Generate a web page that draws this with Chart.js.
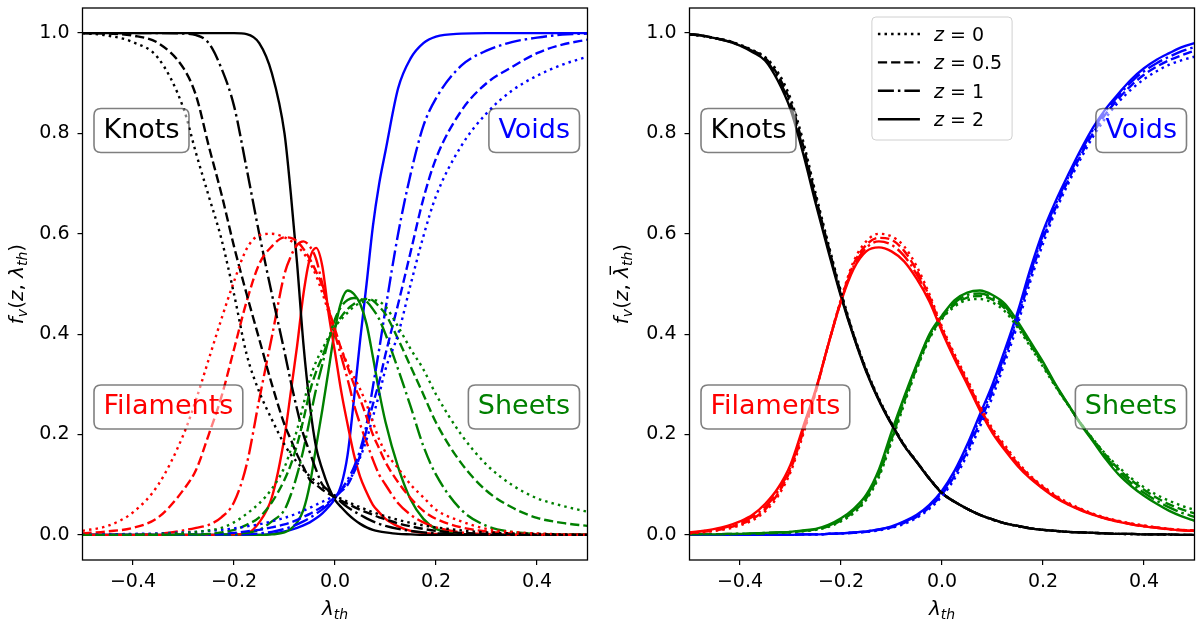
<!DOCTYPE html>
<html>
<head>
<meta charset="utf-8">
<script src="https://cdn.jsdelivr.net/npm/chart.js@4.4.1/dist/chart.umd.min.js"></script>
<style>
  html, body { margin: 0; padding: 0; background: #fff; }
  #wrap { position: relative; width: 1200px; height: 625px; overflow: hidden; }
  #wrap canvas { position: absolute; top: 0; }
  #left { left: 0; }
  #right { left: 600px; }
</style>
</head>
<body>
<div id="wrap">
  <canvas id="left" width="600" height="625"></canvas>
  <canvas id="right" width="600" height="625"></canvas>
</div>
<script>
/**
 * Volume fractions of knots / filaments / sheets / voids vs threshold,
 * two panels, four redshifts each.
 */

// ---- data -------------------------------------------------------------
const Z_LABELS = ['0', '0.5', '1', '2'];
const X_TICKS = [-0.4, -0.2, 0, 0.2, 0.4];
const Y_TICKS = [0, 0.2, 0.4, 0.6, 0.8, 1.0];

// left panel: lambda_th grid (denser where the curves are steep)
const X_LEFT = [-0.5, -0.45, -0.4, -0.35, -0.3, -0.275, -0.25, -0.225, -0.2, -0.175, -0.15, -0.125,
  -0.1, -0.0875, -0.075, -0.0625, -0.05, -0.0375, -0.025, -0.0125, 0, 0.0125, 0.025, 0.0375, 0.05,
  0.0625, 0.075, 0.0875, 0.1, 0.125, 0.15, 0.175, 0.2, 0.25, 0.3, 0.35, 0.4, 0.45, 0.5];

const KNOTS_L_Z0 = [1.0, 0.995, 0.982, 0.95, 0.85, 0.76, 0.675, 0.59, 0.48, 0.36, 0.285, 0.23, 0.18, 0.16, 0.145, 0.13, 0.117, 0.106, 0.096, 0.087, 0.078, 0.072, 0.066, 0.06, 0.055, 0.05, 0.045, 0.041, 0.037, 0.03, 0.024, 0.019, 0.015, 0.009, 0.005, 0.003, 0.002, 0.001, 0];
const KNOTS_L_Z05 = [1.0, 0.999, 0.995, 0.98, 0.93, 0.875, 0.775, 0.68, 0.575, 0.48, 0.39, 0.30, 0.22, 0.19, 0.16, 0.135, 0.11, 0.10, 0.09, 0.082, 0.075, 0.068, 0.062, 0.056, 0.05, 0.045, 0.04, 0.035, 0.031, 0.023, 0.017, 0.012, 0.008, 0.004, 0.002, 0.001, 0, 0, 0];
const KNOTS_L_Z1 = [1, 1, 1, 1, 0.999, 0.996, 0.98, 0.93, 0.855, 0.73, 0.60, 0.48, 0.365, 0.305, 0.25, 0.20, 0.165, 0.13, 0.10, 0.088, 0.076, 0.065, 0.055, 0.047, 0.04, 0.033, 0.027, 0.022, 0.018, 0.012, 0.008, 0.005, 0.003, 0.001, 0, 0, 0, 0, 0];
const KNOTS_L_Z2 = [1, 1, 1, 1, 1, 1, 1, 1, 1, 0.998, 0.98, 0.92, 0.80, 0.68, 0.54, 0.38, 0.26, 0.175, 0.13, 0.095, 0.07, 0.055, 0.042, 0.031, 0.022, 0.015, 0.01, 0.007, 0.005, 0.002, 0.001, 0, 0, 0, 0, 0, 0, 0, 0];

const FIL_L_Z0 = [0.008, 0.018, 0.045, 0.10, 0.20, 0.27, 0.35, 0.43, 0.505, 0.57, 0.597, 0.60, 0.593, 0.586, 0.576, 0.562, 0.543, 0.517, 0.482, 0.443, 0.405, 0.37, 0.34, 0.315, 0.29, 0.26, 0.225, 0.19, 0.165, 0.133, 0.10, 0.075, 0.05, 0.027, 0.012, 0.006, 0.003, 0.001, 0];
const FIL_L_Z05 = [0.003, 0.007, 0.014, 0.035, 0.09, 0.13, 0.20, 0.275, 0.37, 0.465, 0.54, 0.575, 0.593, 0.592, 0.585, 0.57, 0.55, 0.525, 0.495, 0.45, 0.41, 0.37, 0.335, 0.30, 0.27, 0.235, 0.20, 0.172, 0.145, 0.105, 0.073, 0.048, 0.032, 0.015, 0.007, 0.003, 0.001, 0, 0];
const FIL_L_Z1 = [0, 0, 0, 0.002, 0.009, 0.014, 0.02, 0.035, 0.065, 0.14, 0.27, 0.395, 0.52, 0.555, 0.578, 0.585, 0.575, 0.55, 0.50, 0.45, 0.40, 0.355, 0.31, 0.26, 0.22, 0.185, 0.15, 0.12, 0.10, 0.063, 0.04, 0.025, 0.015, 0.005, 0.002, 0, 0, 0, 0];
const FIL_L_Z2 = [0, 0, 0, 0, 0, 0, 0, 0, 0.001, 0.003, 0.025, 0.075, 0.195, 0.285, 0.377, 0.48, 0.55, 0.572, 0.535, 0.44, 0.364, 0.285, 0.22, 0.16, 0.115, 0.085, 0.06, 0.045, 0.032, 0.017, 0.008, 0.004, 0.002, 0, 0, 0, 0, 0, 0];

const SHEETS_L_Z0 = [0, 0, 0.001, 0.002, 0.004, 0.006, 0.009, 0.014, 0.025, 0.042, 0.063, 0.092, 0.135, 0.17, 0.21, 0.26, 0.31, 0.345, 0.37, 0.395, 0.415, 0.43, 0.443, 0.455, 0.462, 0.467, 0.468, 0.465, 0.455, 0.415, 0.37, 0.33, 0.28, 0.20, 0.14, 0.1, 0.073, 0.058, 0.046];
const SHEETS_L_Z05 = [0, 0, 0, 0, 0.001, 0.001, 0.002, 0.005, 0.01, 0.02, 0.035, 0.065, 0.11, 0.14, 0.18, 0.23, 0.285, 0.325, 0.355, 0.39, 0.415, 0.435, 0.45, 0.46, 0.467, 0.47, 0.467, 0.455, 0.44, 0.39, 0.335, 0.28, 0.224, 0.143, 0.088, 0.055, 0.034, 0.024, 0.018];
const SHEETS_L_Z1 = [0, 0, 0, 0, 0, 0, 0.001, 0.001, 0.002, 0.004, 0.01, 0.027, 0.05, 0.08, 0.12, 0.17, 0.23, 0.29, 0.34, 0.39, 0.43, 0.455, 0.468, 0.472, 0.47, 0.465, 0.45, 0.43, 0.40, 0.33, 0.255, 0.177, 0.12, 0.05, 0.018, 0.006, 0.002, 0.001, 0];
const SHEETS_L_Z2 = [0, 0, 0, 0, 0, 0, 0, 0, 0, 0, 0, 0.001, 0.005, 0.012, 0.025, 0.05, 0.10, 0.175, 0.25, 0.33, 0.41, 0.465, 0.487, 0.48, 0.46, 0.42, 0.355, 0.285, 0.225, 0.135, 0.07, 0.032, 0.012, 0.002, 0, 0, 0, 0, 0];

const VOIDS_L_Z0 = [0, 0.001, 0.002, 0.003, 0.005, 0.006, 0.008, 0.01, 0.013, 0.017, 0.021, 0.027, 0.034, 0.038, 0.043, 0.048, 0.054, 0.06, 0.066, 0.072, 0.079, 0.09, 0.105, 0.125, 0.155, 0.19, 0.235, 0.28, 0.33, 0.40, 0.50, 0.595, 0.675, 0.775, 0.84, 0.885, 0.915, 0.937, 0.953];
const VOIDS_L_Z05 = [0, 0, 0, 0, 0, 0.001, 0.001, 0.002, 0.004, 0.007, 0.01, 0.015, 0.021, 0.025, 0.03, 0.036, 0.042, 0.049, 0.056, 0.065, 0.075, 0.087, 0.10, 0.125, 0.16, 0.21, 0.26, 0.305, 0.36, 0.46, 0.565, 0.67, 0.75, 0.845, 0.90, 0.932, 0.96, 0.977, 0.987];
const VOIDS_L_Z1 = [0, 0, 0, 0, 0, 0, 0, 0, 0, 0.001, 0.003, 0.006, 0.012, 0.016, 0.021, 0.027, 0.034, 0.042, 0.051, 0.062, 0.075, 0.09, 0.11, 0.135, 0.17, 0.22, 0.295, 0.37, 0.45, 0.60, 0.72, 0.815, 0.87, 0.935, 0.965, 0.982, 0.991, 0.997, 0.999];
const VOIDS_L_Z2 = [0, 0, 0, 0, 0, 0, 0, 0, 0, 0, 0, 0.002, 0.007, 0.01, 0.014, 0.019, 0.025, 0.033, 0.043, 0.056, 0.072, 0.10, 0.16, 0.27, 0.39, 0.50, 0.615, 0.70, 0.765, 0.89, 0.95, 0.98, 0.993, 0.999, 1, 1, 1, 1, 1];

// right panel: rescaled threshold grid
const X_RIGHT = [-0.5, -0.475, -0.45, -0.425, -0.4, -0.375, -0.35, -0.325, -0.3, -0.275, -0.25, -0.225,
  -0.2, -0.175, -0.15, -0.125, -0.1, -0.075, -0.05, -0.025, 0, 0.025, 0.05, 0.075, 0.1, 0.125, 0.15,
  0.175, 0.2, 0.225, 0.25, 0.275, 0.3, 0.325, 0.35, 0.375, 0.4, 0.425, 0.45, 0.475, 0.5];

const KNOTS_R_Z0 = [0.997, 0.994, 0.99, 0.985, 0.977, 0.966, 0.952, 0.922, 0.87, 0.785, 0.68, 0.58, 0.485, 0.40, 0.33, 0.272, 0.223, 0.18, 0.146, 0.113, 0.084, 0.066, 0.052, 0.04, 0.03, 0.023, 0.017, 0.013, 0.01, 0.008, 0.006, 0.005, 0.004, 0.003, 0.002, 0.001, 0.001, 0.001, 0, 0, 0];
const KNOTS_R_Z05 = [0.997, 0.995, 0.99, 0.985, 0.976, 0.965, 0.95, 0.916, 0.862, 0.776, 0.673, 0.575, 0.481, 0.398, 0.328, 0.27, 0.222, 0.179, 0.146, 0.112, 0.084, 0.066, 0.052, 0.04, 0.031, 0.023, 0.018, 0.013, 0.01, 0.008, 0.006, 0.005, 0.004, 0.003, 0.002, 0.002, 0.001, 0.001, 0.001, 0, 0];
const KNOTS_R_Z1 = [0.998, 0.995, 0.99, 0.984, 0.976, 0.964, 0.948, 0.91, 0.855, 0.768, 0.667, 0.57, 0.478, 0.397, 0.327, 0.269, 0.221, 0.178, 0.145, 0.112, 0.083, 0.066, 0.052, 0.04, 0.031, 0.023, 0.018, 0.013, 0.01, 0.008, 0.006, 0.005, 0.004, 0.003, 0.002, 0.002, 0.001, 0.001, 0.001, 0, 0];
const KNOTS_R_Z2 = [0.998, 0.995, 0.99, 0.984, 0.975, 0.962, 0.945, 0.905, 0.848, 0.76, 0.66, 0.565, 0.475, 0.395, 0.325, 0.268, 0.22, 0.178, 0.145, 0.112, 0.083, 0.066, 0.052, 0.04, 0.031, 0.023, 0.018, 0.013, 0.01, 0.008, 0.006, 0.005, 0.004, 0.003, 0.002, 0.002, 0.001, 0.001, 0.001, 0, 0];

const FIL_R_Z0 = [0.003, 0.005, 0.008, 0.012, 0.019, 0.029, 0.047, 0.077, 0.125, 0.20, 0.285, 0.38, 0.47, 0.545, 0.585, 0.60, 0.595, 0.575, 0.535, 0.48, 0.415, 0.36, 0.31, 0.258, 0.212, 0.178, 0.145, 0.118, 0.097, 0.079, 0.064, 0.052, 0.042, 0.034, 0.028, 0.023, 0.019, 0.015, 0.012, 0.01, 0.009];
const FIL_R_Z05 = [0.004, 0.006, 0.009, 0.014, 0.021, 0.032, 0.051, 0.082, 0.13, 0.205, 0.286, 0.38, 0.468, 0.54, 0.578, 0.592, 0.588, 0.566, 0.527, 0.475, 0.411, 0.356, 0.306, 0.254, 0.208, 0.174, 0.142, 0.116, 0.095, 0.077, 0.062, 0.051, 0.041, 0.033, 0.027, 0.022, 0.018, 0.015, 0.012, 0.01, 0.009];
const FIL_R_Z1 = [0.004, 0.007, 0.01, 0.016, 0.024, 0.036, 0.056, 0.087, 0.135, 0.21, 0.288, 0.38, 0.466, 0.535, 0.572, 0.585, 0.578, 0.556, 0.519, 0.47, 0.408, 0.353, 0.303, 0.251, 0.205, 0.171, 0.14, 0.114, 0.093, 0.075, 0.061, 0.05, 0.04, 0.033, 0.027, 0.021, 0.017, 0.014, 0.011, 0.009, 0.008];
const FIL_R_Z2 = [0.005, 0.008, 0.012, 0.018, 0.027, 0.04, 0.062, 0.093, 0.14, 0.215, 0.29, 0.38, 0.465, 0.53, 0.565, 0.573, 0.565, 0.545, 0.51, 0.465, 0.405, 0.35, 0.30, 0.248, 0.203, 0.168, 0.137, 0.112, 0.092, 0.074, 0.06, 0.049, 0.04, 0.032, 0.026, 0.021, 0.017, 0.014, 0.011, 0.009, 0.008];

const SHEETS_R_Z0 = [0.001, 0.001, 0.001, 0.001, 0.002, 0.002, 0.003, 0.004, 0.005, 0.007, 0.01, 0.016, 0.027, 0.043, 0.07, 0.115, 0.185, 0.26, 0.33, 0.39, 0.43, 0.455, 0.468, 0.47, 0.463, 0.445, 0.413, 0.375, 0.335, 0.295, 0.258, 0.222, 0.19, 0.16, 0.135, 0.113, 0.095, 0.08, 0.068, 0.058, 0.05];
const SHEETS_R_Z05 = [0.001, 0.001, 0.001, 0.001, 0.002, 0.002, 0.003, 0.004, 0.005, 0.008, 0.011, 0.017, 0.029, 0.046, 0.073, 0.12, 0.19, 0.265, 0.333, 0.393, 0.432, 0.459, 0.473, 0.476, 0.469, 0.451, 0.418, 0.379, 0.339, 0.297, 0.259, 0.222, 0.189, 0.158, 0.131, 0.109, 0.09, 0.074, 0.061, 0.051, 0.043];
const SHEETS_R_Z1 = [0.001, 0.001, 0.001, 0.002, 0.002, 0.003, 0.004, 0.005, 0.006, 0.008, 0.011, 0.018, 0.031, 0.049, 0.076, 0.125, 0.197, 0.27, 0.337, 0.397, 0.435, 0.463, 0.478, 0.481, 0.473, 0.455, 0.421, 0.382, 0.342, 0.298, 0.259, 0.221, 0.187, 0.154, 0.126, 0.103, 0.084, 0.068, 0.055, 0.044, 0.036];
const SHEETS_R_Z2 = [0.001, 0.001, 0.001, 0.002, 0.002, 0.003, 0.004, 0.005, 0.006, 0.009, 0.012, 0.02, 0.033, 0.052, 0.08, 0.13, 0.205, 0.275, 0.34, 0.40, 0.437, 0.468, 0.483, 0.487, 0.478, 0.46, 0.425, 0.385, 0.345, 0.30, 0.26, 0.22, 0.185, 0.15, 0.12, 0.097, 0.078, 0.062, 0.048, 0.037, 0.028];

const VOIDS_R_Z0 = [0, 0, 0, 0, 0, 0, 0, 0, 0, 0.001, 0.001, 0.002, 0.003, 0.004, 0.006, 0.009, 0.014, 0.022, 0.034, 0.052, 0.077, 0.112, 0.16, 0.215, 0.275, 0.345, 0.42, 0.505, 0.58, 0.645, 0.70, 0.75, 0.795, 0.832, 0.863, 0.888, 0.908, 0.924, 0.937, 0.946, 0.953];
const VOIDS_R_Z05 = [0, 0, 0, 0, 0, 0, 0, 0, 0, 0.001, 0.001, 0.002, 0.003, 0.004, 0.006, 0.01, 0.015, 0.024, 0.036, 0.055, 0.081, 0.118, 0.167, 0.225, 0.285, 0.355, 0.43, 0.515, 0.59, 0.652, 0.707, 0.757, 0.802, 0.84, 0.87, 0.896, 0.917, 0.933, 0.946, 0.956, 0.965];
const VOIDS_R_Z1 = [0, 0, 0, 0, 0, 0, 0, 0, 0, 0.001, 0.001, 0.002, 0.003, 0.005, 0.007, 0.011, 0.016, 0.026, 0.038, 0.058, 0.085, 0.123, 0.174, 0.232, 0.292, 0.362, 0.438, 0.522, 0.598, 0.659, 0.713, 0.763, 0.809, 0.846, 0.876, 0.903, 0.924, 0.94, 0.953, 0.964, 0.972];
const VOIDS_R_Z2 = [0, 0, 0, 0, 0, 0, 0, 0, 0, 0.001, 0.001, 0.002, 0.003, 0.005, 0.007, 0.011, 0.017, 0.027, 0.04, 0.06, 0.088, 0.128, 0.18, 0.24, 0.30, 0.37, 0.445, 0.53, 0.605, 0.665, 0.718, 0.768, 0.813, 0.85, 0.88, 0.908, 0.93, 0.947, 0.96, 0.972, 0.98];

// ---- style ------------------------------------------------------------
const FONT = '"DejaVu Sans", sans-serif';
const LINE_W = 2.4;
// dotted, dashed, dash-dot, solid  (one per redshift)
const DASHES = [[2.5, 4.1], [9.2, 4], [16, 4, 2.5, 4], []];
const COLORS = { knots: '#000000', filaments: '#ff0000', sheets: '#008000', voids: '#0000ff' };

const TAGS = [
    { text: 'Knots', kind: 'knots', side: 'left', y: 0.806 },
    { text: 'Voids', kind: 'voids', side: 'right', y: 0.806 },
    { text: 'Filaments', kind: 'filaments', side: 'left', y: 0.255 },
    { text: 'Sheets', kind: 'sheets', side: 'right', y: 0.255 },
];

Chart.defaults.font.family = FONT;

// draws (or just measures) a run of mathtext-like pieces, returns width
function mathRuns(ctx, runs, size, x0, y0, draw) {
    let x = x0;
    runs.forEach(r => {
        const fs = r.sub ? size * 0.7 : size;
        ctx.font = (r.it ? 'italic ' : '') + fs + 'px ' + FONT;
        const w = ctx.measureText(r.t).width;
        if (draw) {
            ctx.fillText(r.t, x, y0 + (r.sub ? size * 0.2 : 0));
            if (r.bar) ctx.fillRect(x + w * 0.25, y0 - size * 0.92, w * 0.75, 1.4);
        }
        x += w;
    });
    return x - x0;
}

function roundRectPath(ctx, x, y, w, h, r) {
    ctx.beginPath();
    ctx.moveTo(x + r, y);
    ctx.lineTo(x + w - r, y);
    ctx.quadraticCurveTo(x + w, y, x + w, y + r);
    ctx.lineTo(x + w, y + h - r);
    ctx.quadraticCurveTo(x + w, y + h, x + w - r, y + h);
    ctx.lineTo(x + r, y + h);
    ctx.quadraticCurveTo(x, y + h, x, y + h - r);
    ctx.lineTo(x, y + r);
    ctx.quadraticCurveTo(x, y, x + r, y);
    ctx.closePath();
}

function makeDecor(cfg) {
    return {
        id: 'decor',
        afterDraw(chart) {
            const ctx = chart.ctx;
            const a = chart.chartArea;
            const ys = chart.scales.y;
            ctx.save();

            // label boxes
            TAGS.forEach(t => {
                const fs = 27, pad = 9.5, h = 44;
                ctx.font = fs + 'px ' + FONT;
                const w = ctx.measureText(t.text).width + 2 * pad;
                const cy = ys.getPixelForValue(t.y);
                const x0 = t.side === 'left' ? a.left + 11.5 : a.right - 8 - w;
                roundRectPath(ctx, x0, cy - h / 2, w, h, 7);
                ctx.fillStyle = 'rgba(255,255,255,0.5)';
                ctx.fill();
                ctx.lineWidth = 1.6;
                ctx.strokeStyle = 'rgba(0,0,0,0.5)';
                ctx.stroke();
                ctx.fillStyle = COLORS[t.kind];
                ctx.textBaseline = 'alphabetic';
                ctx.textAlign = 'left';
                ctx.fillText(t.text, x0 + pad, cy + 7.3);
            });

            // legend (right panel only)
            if (cfg.legend) {
                const fs = 19, pad = 6, handle = 42, gap = 14, rowH = 28.4;
                let maxW = 0;
                Z_LABELS.forEach(l => {
                    maxW = Math.max(maxW, mathRuns(ctx, [{ t: 'z', it: 1 }, { t: ' = ' + l }], fs, 0, 0, false));
                });
                const w = pad + handle + gap + maxW + 10, h = 123;
                const x0 = (a.left + a.right) / 2 - w / 2, y0 = a.top + 9;
                roundRectPath(ctx, x0, y0, w, h, 4);
                ctx.fillStyle = 'rgba(255,255,255,0.8)';
                ctx.fill();
                ctx.lineWidth = 1;
                ctx.strokeStyle = '#d0d0d0';
                ctx.stroke();
                Z_LABELS.forEach((l, i) => {
                    const y = y0 + 17 + i * rowH;
                    ctx.setLineDash(DASHES[i]);
                    ctx.lineCap = 'butt';
                    ctx.lineWidth = LINE_W;
                    ctx.strokeStyle = '#000';
                    ctx.beginPath();
                    ctx.moveTo(x0 + pad, y);
                    ctx.lineTo(x0 + pad + handle, y);
                    ctx.stroke();
                    ctx.setLineDash([]);
                    ctx.fillStyle = '#000';
                    mathRuns(ctx, [{ t: 'z', it: 1 }, { t: ' = ' + l }], fs, x0 + pad + handle + gap, y + 6.7, true);
                });
            }

            // frame
            ctx.setLineDash([]);
            ctx.lineWidth = 1.3;
            ctx.strokeStyle = '#000';
            ctx.strokeRect(a.left, a.top, a.right - a.left, a.bottom - a.top);

            // axis titles
            ctx.fillStyle = '#000';
            ctx.textBaseline = 'alphabetic';
            ctx.textAlign = 'left';
            const tsize = 20;
            const xRuns = [{ t: 'λ', it: 1 }, { t: 'th', it: 1, sub: 1 }];
            const xw = mathRuns(ctx, xRuns, tsize, 0, 0, false);
            mathRuns(ctx, xRuns, tsize, (a.left + a.right) / 2 - xw / 2, 615, true);

            const yRuns = [{ t: 'f', it: 1 }, { t: 'v', it: 1, sub: 1 }, { t: '(' }, { t: 'z', it: 1 },
                { t: ', ' }, { t: 'λ', it: 1, bar: cfg.bar }, { t: 'th', it: 1, sub: 1 }, { t: ')' }];
            const yw = mathRuns(ctx, yRuns, tsize, 0, 0, false);
            ctx.translate(cfg.yTitleX, (a.top + a.bottom) / 2);
            ctx.rotate(-Math.PI / 2);
            mathRuns(ctx, yRuns, tsize, -yw / 2, 0, true);

            ctx.restore();
        }
    };
}

function fmtTick(v) {
    const s = Math.abs(v) < 1e-9 ? '0.0' : v.toFixed(1);
    return s.replace('-', '\u2212');
}

function makePanel(id, xs, groups, cfg) {
    const datasets = [];
    // one loop per redshift so the solid (z=2) lines land on top
    Z_LABELS.forEach((z, zi) => {
        ['knots', 'filaments', 'sheets', 'voids'].forEach(kind => {
            const ys = groups[kind][zi];
            datasets.push({
                label: kind + ' z=' + z,
                data: xs.map((x, i) => ({ x: x, y: ys[i] })),
                borderColor: COLORS[kind],
                borderWidth: LINE_W,
                borderDash: DASHES[zi],
                borderCapStyle: 'butt',
                pointRadius: 0,
                fill: false,
                cubicInterpolationMode: 'monotone',
            });
        });
    });

    const tickFont = { family: FONT, size: 19 };
    return new Chart(document.getElementById(id), {
        type: 'line',
        data: { datasets },
        options: {
            responsive: false,
            animation: false,
            events: [],
            layout: { padding: { top: 8, right: cfg.padRight, left: 0, bottom: 0 } },
            plugins: { legend: { display: false }, tooltip: { enabled: false } },
            scales: {
                x: {
                    type: 'linear', min: -0.5, max: 0.5,
                    afterBuildTicks: s => { s.ticks = X_TICKS.map(v => ({ value: v })); },
                    afterFit: s => { s.height = 65; s.paddingLeft = 0; s.paddingRight = 0; },
                    ticks: { font: tickFont, color: '#000', padding: 6, maxRotation: 0, autoSkip: false, callback: fmtTick },
                    grid: { drawOnChartArea: false, drawTicks: true, tickLength: 5, color: '#000', lineWidth: 1.2 },
                    border: { display: false },
                },
                y: {
                    type: 'linear', min: -0.05, max: 1.05,
                    afterBuildTicks: s => { s.ticks = Y_TICKS.map(v => ({ value: v })); },
                    afterFit: s => { s.width = cfg.yAxisW; s.paddingTop = 0; s.paddingBottom = 0; },
                    ticks: { font: tickFont, color: '#000', padding: 8, autoSkip: false, callback: fmtTick },
                    grid: { drawOnChartArea: false, drawTicks: true, tickLength: 5, color: '#000', lineWidth: 1.2 },
                    border: { display: false },
                },
            },
        },
        plugins: [makeDecor(cfg)],
    });
}

makePanel('left', X_LEFT, {
    knots: [KNOTS_L_Z0, KNOTS_L_Z05, KNOTS_L_Z1, KNOTS_L_Z2],
    filaments: [FIL_L_Z0, FIL_L_Z05, FIL_L_Z1, FIL_L_Z2],
    sheets: [SHEETS_L_Z0, SHEETS_L_Z05, SHEETS_L_Z1, SHEETS_L_Z2],
    voids: [VOIDS_L_Z0, VOIDS_L_Z05, VOIDS_L_Z1, VOIDS_L_Z2],
}, { yAxisW: 82.5, padRight: 12.5, yTitleX: 23, bar: false, legend: false });

makePanel('right', X_RIGHT, {
    knots: [KNOTS_R_Z0, KNOTS_R_Z05, KNOTS_R_Z1, KNOTS_R_Z2],
    filaments: [FIL_R_Z0, FIL_R_Z05, FIL_R_Z1, FIL_R_Z2],
    sheets: [SHEETS_R_Z0, SHEETS_R_Z05, SHEETS_R_Z1, SHEETS_R_Z2],
    voids: [VOIDS_R_Z0, VOIDS_R_Z05, VOIDS_R_Z1, VOIDS_R_Z2],
}, { yAxisW: 89.5, padRight: 5.5, yTitleX: 28, bar: true, legend: true });
</script>
</body>
</html>
